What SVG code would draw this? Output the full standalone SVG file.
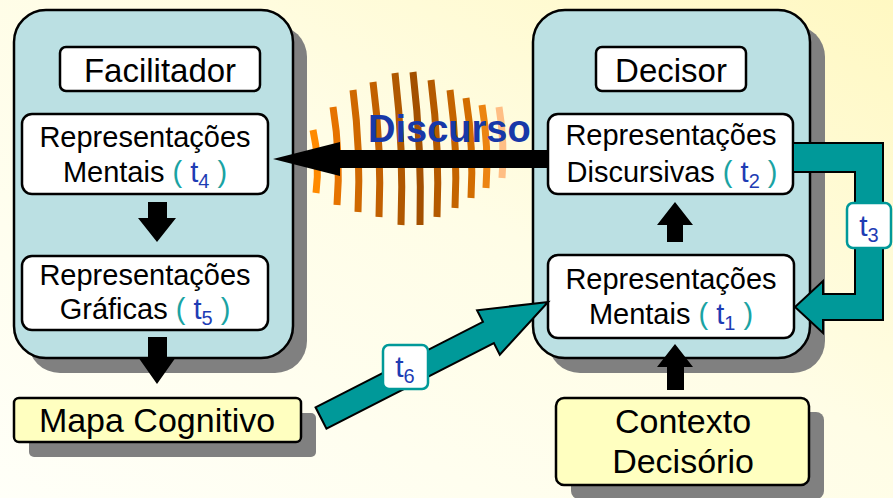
<svg xmlns="http://www.w3.org/2000/svg" width="893" height="498" viewBox="0 0 893 498">
  <defs>
    <linearGradient id="bg" x1="0" y1="1" x2="1" y2="0">
      <stop offset="0" stop-color="#FFFFF8"/>
      <stop offset="0.55" stop-color="#FFFDE6"/>
      <stop offset="1" stop-color="#FFF8C2"/>
    </linearGradient>
    <style>
      .shadow { fill: #808080; }
      .panel { fill: #BBE0E3; stroke: #000; stroke-width: 2.5; }
      .box { fill: #FFFFFF; stroke: #000; stroke-width: 2.5; }
      .note { fill: #FFFFC0; stroke: #000; stroke-width: 2.5; }
      .txt { font-family: "Liberation Sans", Arial, sans-serif; font-size: 29px; fill: #000; text-anchor: middle; }
      .big { font-size: 33px; }
      .huge { font-size: 34px; }
      .par { fill: #1AA3A3; }
      .tv { fill: #1E3CB4; }
      .sub { font-size: 20px; }
      .tag { fill: #FFFFFF; stroke: #009999; stroke-width: 2.5; }
      .arrow { fill: #000; }
      .flow { fill: #009999; stroke: #000; stroke-width: 2; stroke-linejoin: miter; }
      .wave { fill: none; stroke-width: 7; stroke-linecap: butt; }
      .speech { font-family: "Liberation Sans", Arial, sans-serif; font-size: 38px; font-weight: bold; fill: #1838A8; }
    </style>
  </defs>

  <rect x="0" y="0" width="893" height="498" fill="url(#bg)"/>

  <!-- Facilitador panel -->
  <g id="facilitador">
    <rect class="shadow" x="28" y="25" width="279" height="348" rx="32"/>
    <rect class="panel" x="14" y="10" width="279" height="348" rx="32"/>
    <rect class="box" x="60" y="47" width="200" height="44" rx="6"/>
    <text class="txt big" x="160" y="82">Facilitador</text>
  </g>

  <!-- Decisor panel -->
  <g id="decisor">
    <rect class="shadow" x="548" y="25" width="277" height="348" rx="32"/>
    <rect class="panel" x="533" y="10" width="277" height="348" rx="32"/>
    <rect class="box" x="596" y="47" width="150" height="44" rx="6"/>
    <text class="txt big" x="671" y="82">Decisor</text>
  </g>

  <!-- sound waves behind the speech arrow -->
  <g id="waves">
    <path class="wave" stroke="#FF8A00" d="M313,130 Q320,161 316,193"/>
    <path class="wave" stroke="#E67300" d="M333,107 Q341,156 337,205"/>
    <path class="wave" stroke="#CF6800" d="M353,90 Q361,151 358,212"/>
    <path class="wave" stroke="#C26000" d="M373,82 Q382,150 379,217"/>
    <path class="wave" stroke="#B05800" d="M395,73 Q404,149 401,225"/>
    <path class="wave" stroke="#A35000" d="M413,72 Q422,149 420,225"/>
    <path class="wave" stroke="#B45A00" d="M431,80 Q440,149 437,217"/>
    <path class="wave" stroke="#C46400" d="M450,90 Q458,149 455,208"/>
    <path class="wave" stroke="#D26D00" d="M466,98 Q474,148 471,198"/>
    <path class="wave" stroke="#EC8412" d="M482,105 Q489,147 486,188"/>
    <path class="wave" stroke="#FFBE84" d="M499,107 Q505,143 502,178"/>
  </g>

  <!-- representation boxes -->
  <g id="rep-mentais-facilitador">
    <rect class="box" x="22" y="114" width="246" height="80" rx="10"/>
    <text class="txt" x="145" y="147">Representações</text>
    <text class="txt" x="145" y="182">Mentais <tspan class="par">( </tspan><tspan class="tv">t</tspan><tspan class="tv sub" dy="6">4</tspan><tspan class="par" dy="-6"> )</tspan></text>
  </g>

  <g id="rep-graficas">
    <rect class="box" x="22" y="256" width="246" height="74" rx="10"/>
    <text class="txt" x="145" y="285">Representações</text>
    <text class="txt" x="145" y="319">Gráficas <tspan class="par">( </tspan><tspan class="tv">t</tspan><tspan class="tv sub" dy="6">5</tspan><tspan class="par" dy="-6"> )</tspan></text>
  </g>

  <g id="rep-discursivas">
    <rect class="box" x="548" y="114" width="245" height="80" rx="10"/>
    <text class="txt" x="671" y="145">Representações</text>
    <text class="txt" x="672" y="182">Discursivas <tspan class="par">( </tspan><tspan class="tv">t</tspan><tspan class="tv sub" dy="6">2</tspan><tspan class="par" dy="-6"> )</tspan></text>
  </g>

  <g id="rep-mentais-decisor">
    <rect class="box" x="548" y="255" width="246" height="83" rx="10"/>
    <text class="txt" x="671" y="289">Representações</text>
    <text class="txt" x="671" y="324">Mentais <tspan class="par">( </tspan><tspan class="tv">t</tspan><tspan class="tv sub" dy="6">1</tspan><tspan class="par" dy="-6"> )</tspan></text>
  </g>

  <g id="mapa-cognitivo">
    <rect class="shadow" x="29" y="413" width="287" height="44" rx="5"/>
    <rect class="note" x="14" y="398" width="287" height="44" rx="5"/>
    <text class="txt huge" x="157" y="432">Mapa Cognitivo</text>
  </g>

  <g id="contexto-decisorio">
    <rect class="shadow" x="571" y="412" width="253" height="87" rx="8"/>
    <rect class="note" x="556" y="398" width="253" height="87" rx="8"/>
    <text class="txt huge" x="683" y="433">Contexto</text>
    <text class="txt huge" x="683" y="473">Decisório</text>
  </g>

  <!-- connectors -->
  <g id="connectors">
    <!-- speech: Decisor discursive -> Facilitador mental -->
    <path class="arrow" d="M548,150 H340 V142 L273,159 L340,176 V168 H548 Z"/>
    <text class="speech" x="368" y="142">Discurso</text>

    <!-- Facilitador internal flow -->
    <path class="arrow" d="M148,202 H167 V218 H176 L157,242 L138,218 H148 Z"/>
    <path class="arrow" d="M148,337 H167 V357 H176 L157,384 L138,357 H148 Z"/>

    <!-- Decisor internal flow -->
    <path class="arrow" d="M667,242 V225 H657 L675,202 L693,225 H683 V242 Z"/>
    <path class="arrow" d="M667,390 V367 H657 L675,344 L693,367 H684 V390 Z"/>

    <!-- t3 feedback loop -->
    <path class="flow" d="M793,143 H883 V320 H823 V333 L795,307 L823,281 V294 H855 V172 H793 Z"/>
    <rect class="tag" x="847" y="203" width="44" height="45" rx="6"/>
    <text class="txt" x="869" y="236" style="font-size:30px"><tspan class="tv">t</tspan><tspan class="tv sub" dy="6">3</tspan></text>

    <!-- t6 map -> Decisor mental -->
    <path class="flow" transform="translate(321,418) rotate(-27.06)" d="M0,-12 H188 V-25 L255,0 L188,25 V12 H0 Z"/>
    <rect class="tag" x="383" y="345" width="45" height="44" rx="6"/>
    <text class="txt" x="405" y="377" style="font-size:30px"><tspan class="tv">t</tspan><tspan class="tv sub" dy="6">6</tspan></text>
  </g>
</svg>
